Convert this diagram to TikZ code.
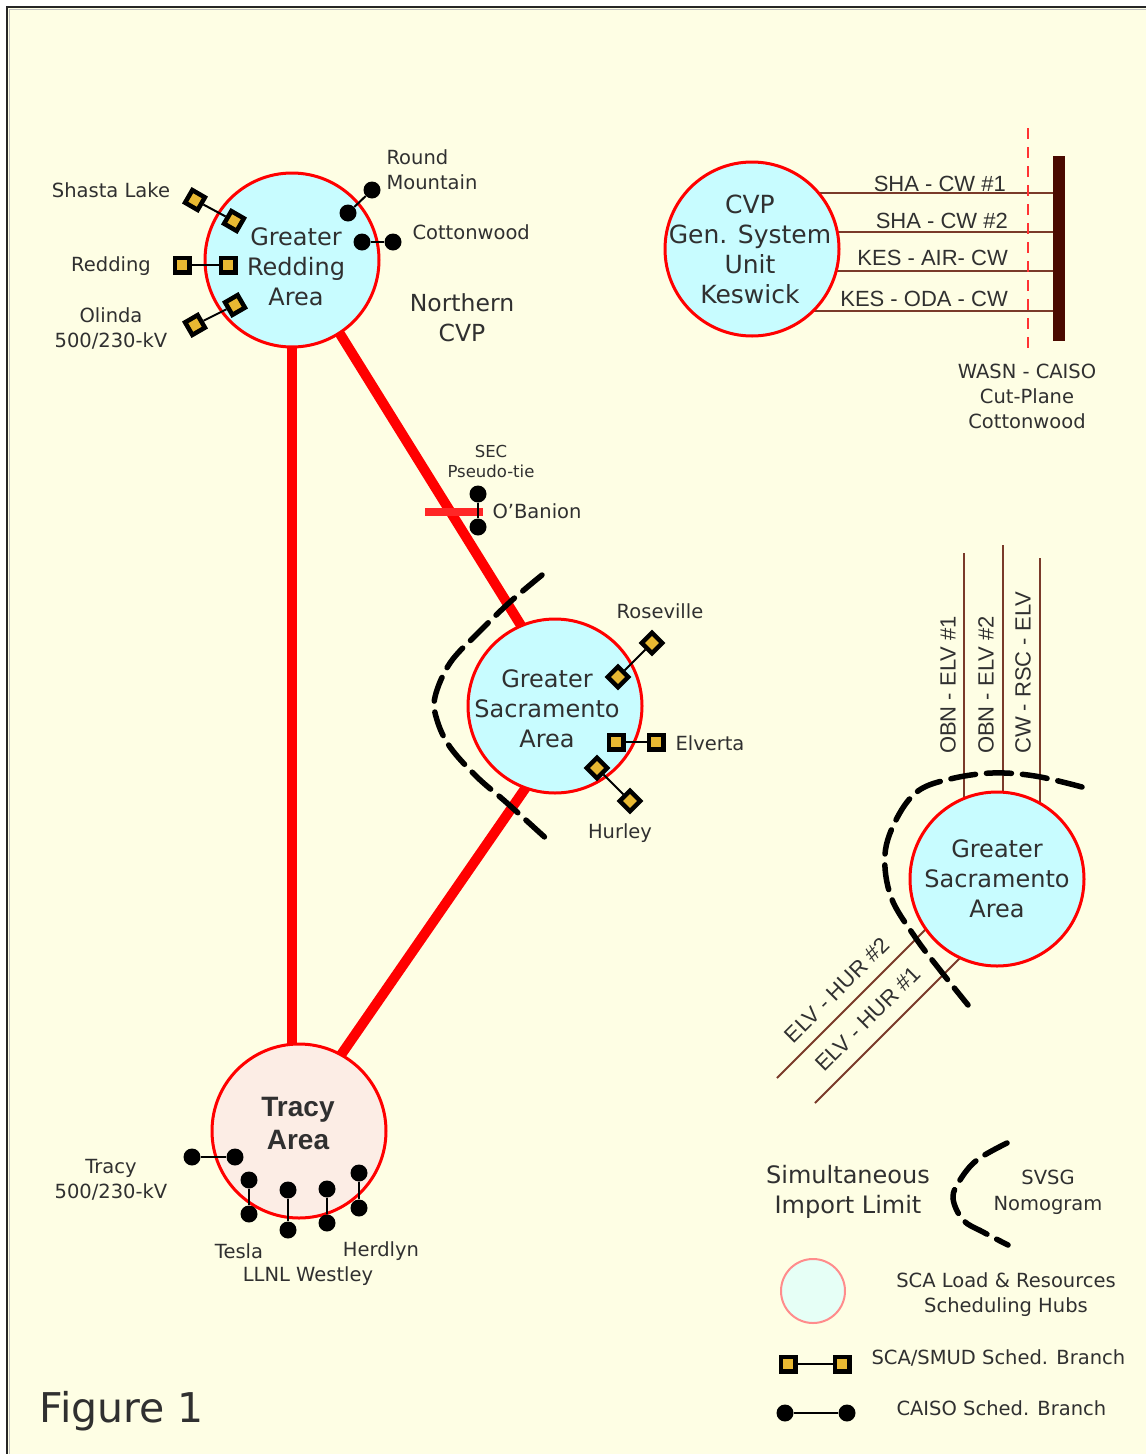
\documentclass[tikz,border=0pt]{standalone}
\usepackage{fontspec}
\setmainfont{DejaVu Sans}
\newfontfamily\arialf{Liberation Sans}
\usetikzlibrary{calc}
\pgfdeclarelayer{back}
\pgfdeclarelayer{wires}
\pgfsetlayers{back,wires,main}
\definecolor{paper}{HTML}{FEFEE4}
\definecolor{hubc}{HTML}{C8FCFF}
\definecolor{hubtr}{HTML}{FCEDE5}
\definecolor{mint}{HTML}{E6FFF6}
\definecolor{gold}{HTML}{E8B832}
\definecolor{brownl}{HTML}{7A3A2A}
\definecolor{barc}{HTML}{4A0A00}
\definecolor{ink}{HTML}{303030}
\tikzset{
  hub/.style={circle, draw=red, line width=3pt, fill=hubc, minimum size=174pt, inner sep=0pt},
  hubtxt/.style={text=ink, align=center, font=\fontsize{24}{30}\selectfont},
  sqm/.style={rectangle, draw=black, line width=4.5pt, fill=gold, minimum size=14.5pt, inner sep=0pt},
  dotm/.style={circle, fill=black, minimum size=17pt, inner sep=0pt},
  lbl/.style={text=ink, align=center, font=\fontsize{19.5}{25}\selectfont},
  alb/.style={text=ink, font=\arialf\fontsize{22}{25}\selectfont, inner sep=0pt},
  wire/.style={black, line width=2pt},
  feeder/.style={brownl, line width=2pt},
  redline/.style={red, line width=10pt, shorten <=-6pt, shorten >=-6pt},
  nomo/.style={black, line width=5.5pt, line cap=round, dash pattern=on 25pt off 11pt}
}
\begin{document}
\begin{tikzpicture}[x=1pt,y=-1pt]
\useasboundingbox (0,0) rectangle (1146,1454);
\begin{pgfonlayer}{back}
\fill[white] (0,0) rectangle (1146,1454);
\fill[paper] (7,7) rectangle (1146,1454);
\draw[black!85, line width=2pt] (7,1454) -- (7,7) -- (1146,7);
\draw[black!25, line width=1.5pt] (9.5,1454) -- (9.5,9.5) -- (1146,9.5);
\end{pgfonlayer}

% hubs
\node[hub] (red) at (292,260) {};
\node[hubtxt] (redt) at (296,267) {Greater\\Redding\\Area};
\node[hub] (cvp) at (752,249) {};
\node[hubtxt, font=\fontsize{25}{30}\selectfont] (cvpt) at (750,249) {CVP\\Gen. System\\Unit\\Keswick};
\node[hub] (sacm) at (555,706) {};
\node[hubtxt] (sacmt) at (547,709) {Greater\\Sacramento\\Area};
\node[hub] (sacr) at (997,879) {};
\node[hubtxt] (sacrt) at (997,879) {Greater\\Sacramento\\Area};
\node[hub, fill=hubtr] (tracy) at (299,1131) {};
\node[text=ink, align=center, font=\arialf\bfseries\fontsize{28}{33}\selectfont] (tracyt) at (298,1123) {Tracy\\Area};

% red transmission paths
\begin{pgfonlayer}{wires}
\draw[redline] (red.south) -- (red.south |- tracy.north);
\draw[redline] (red.-57) -- (sacm.113);
\draw[redline] (sacm.-110) -- (tracy.61);
\end{pgfonlayer}

% Northern CVP
\node[hubtxt, font=\fontsize{23.5}{30}\selectfont] (ncvp) at (462,318) {Northern\\CVP};

% Redding markers
\node[sqm, rotate=-30] (sh1) at (195,200) {};
\node[sqm, rotate=-30] (sh2) at (234,221) {};
\draw[wire] (sh1) -- (sh2);
\node[sqm] (rd1) at (182,265) {};
\node[sqm] (rd2) at (228,265) {};
\draw[wire] (rd1) -- (rd2);
\node[sqm, rotate=30] (ol1) at (195,325) {};
\node[sqm, rotate=30] (ol2) at (235,305) {};
\draw[wire] (ol1) -- (ol2);
\node[dotm] (rm1) at (372,190) {};
\node[dotm] (rm2) at (348,213) {};
\draw[wire] (rm1) -- (rm2);
\node[dotm] (cw1) at (362,242) {};
\node[dotm] (cw2) at (393,242) {};
\draw[wire] (cw1) -- (cw2);
\node[lbl] (lsh) at (111,190) {Shasta Lake};
\node[lbl] (lrd) at (111,266) {Redding};
\node[lbl] (lol) at (111,328) {Olinda\\500/230-kV};
\node[lbl, anchor=west, align=left] (lrm) at (383,170) {Round\\Mountain};
\node[lbl, anchor=west] (lcw) at (409,232) {Cottonwood};

% O'Banion pseudo-tie
\draw[red!85, line width=8pt] (425,512) -- (483,512);
\node[dotm] (ob1) at (478,494) {};
\node[dotm] (ob2) at (478,527) {};
\draw[wire] (ob1) -- (ob2);
\node[lbl, anchor=west] (lob) at (489,511) {O'Banion};
\node[text=ink, align=center, font=\fontsize{16.5}{20}\selectfont] (lsec) at (491,461) {SEC\\Pseudo-tie};

% Sacramento markers
\node[sqm, rotate=45] (rs1) at (618,677) {};
\node[sqm, rotate=45] (rs2) at (652,643) {};
\draw[wire] (rs1) -- (rs2);
\node[sqm] (el1) at (616,742) {};
\node[sqm] (el2) at (656,742) {};
\draw[wire] (el1) -- (el2);
\node[sqm, rotate=45] (hu1) at (597,768) {};
\node[sqm, rotate=45] (hu2) at (630,801) {};
\draw[wire] (hu1) -- (hu2);
\node[lbl] (lrs) at (660,611) {Roseville};
\node[lbl, anchor=west] (lel) at (672,743) {Elverta};
\node[lbl] (lhu) at (620,833) {Hurley};

% SVSG nomogram (middle)
\draw[nomo] plot[smooth, tension=0.6] coordinates {(542,575) (510,602) (478,633) (450,663) (435,697) (437,720) (450,747) (477,777) (507,803) (550,842)};

% Tracy markers
\node[dotm] (tr1) at (192,1157) {};
\node[dotm] (tr2) at (235,1157) {};
\draw[wire] (tr1) -- (tr2);
\node[dotm] (te1) at (249,1180) {};
\node[dotm] (te2) at (249,1214) {};
\draw[wire] (te1) -- (te2);
\node[dotm] (ll1) at (288,1190) {};
\node[dotm] (ll2) at (288,1230) {};
\draw[wire] (ll1) -- (ll2);
\node[dotm] (we1) at (327,1189) {};
\node[dotm] (we2) at (327,1223) {};
\draw[wire] (we1) -- (we2);
\node[dotm] (he1) at (359,1173) {};
\node[dotm] (he2) at (359,1208) {};
\draw[wire] (he1) -- (he2);
\node[lbl] (ltr) at (111,1180) {Tracy\\500/230-kV};
\node[lbl] (lte) at (239,1251) {Tesla};
\node[lbl] (lhe) at (381,1251) {Herdlyn};
\node[lbl] (llw) at (308,1276) {LLNL Westley};

% CVP cut-plane
\node[fill=barc, minimum width=12pt, minimum height=185pt, inner sep=0pt] (bar) at (1059,248) {};
\begin{pgfonlayer}{wires}
\foreach \yy in {193,232,271,311} {
  \draw[feeder] (cvp.center |- 0,\yy) -- (bar.center |- 0,\yy);
}
\end{pgfonlayer}
\draw[red!80, line width=2pt, dash pattern=on 11pt off 8pt] (1028,128) -- (1028,353);
\node[alb, anchor=base east] (f1) at (1006,191) {SHA - CW \#1};
\node[alb, anchor=base east] (f2) at (1008,228) {SHA - CW \#2};
\node[alb, anchor=base east] (f3) at (1008,265) {KES - AIR- CW};
\node[alb, anchor=base east] (f4) at (1008,306) {KES - ODA - CW};
\node[lbl] (lwasn) at (1027,396) {WASN - CAISO\\Cut-Plane\\Cottonwood};

% right Sacramento feeders
\begin{pgfonlayer}{wires}
\coordinate (v1) at (964,553);
\coordinate (v2) at (1003,545);
\coordinate (v3) at (1040,558);
\draw[feeder] (v1) -- (v1 |- sacr.center);
\draw[feeder] (v2) -- (v2 |- sacr.center);
\draw[feeder] (v3) -- (v3 |- sacr.center);
\coordinate (d1) at (777,1078);
\coordinate (d2) at (815,1103);
\draw[feeder] (d1) -- (945,910);
\draw[feeder] (d2) -- (978,940);
\end{pgfonlayer}
\node[alb, rotate=90, anchor=west] (lv1) at (948,754) {OBN - ELV \#1};
\node[alb, rotate=90, anchor=west] (lv2) at (986,754) {OBN - ELV \#2};
\node[alb, rotate=90, anchor=west] (lv3) at (1023,754) {CW - RSC - ELV};
\node[alb, rotate=45] (ld1) at (837,990) {ELV - HUR \#2};
\node[alb, rotate=45] (ld2) at (868,1019) {ELV - HUR \#1};
\draw[nomo] plot[smooth, tension=0.6] coordinates {(1082,787) (1035,776) (992,773) (950,779) (918,791) (897,818) (885,854) (891,897) (915,937) (940,970) (968,1005)};

% legend
\node[hubtxt, font=\fontsize{24}{30}\selectfont] (lsim) at (848,1192) {Simultaneous\\Import Limit};
\draw[nomo] plot[smooth, tension=0.6] coordinates {(1007,1143) (977,1160) (960,1180) (953,1198) (963,1220) (983,1232) (1008,1245)};
\node[lbl, font=\fontsize{19.5}{26}\selectfont] (lsvsg) at (1048,1192) {SVSG\\Nomogram};
\node[circle, draw=red!45, line width=2pt, fill=mint, minimum size=64pt, inner sep=0pt] (lghub) at (813,1291) {};
\node[lbl] (lhubs) at (1006,1295) {SCA Load \& Resources\\Scheduling Hubs};
\node[sqm] (lq1) at (788,1364) {};
\node[sqm] (lq2) at (842,1364) {};
\draw[wire] (lq1) -- (lq2);
\node[lbl, anchor=west] (lsca) at (868,1358) {SCA/SMUD Sched. Branch};
\node[dotm] (ld1a) at (785,1413) {};
\node[dotm] (ld2a) at (847,1413) {};
\draw[wire] (ld1a) -- (ld2a);
\node[lbl, anchor=west] (lcaiso) at (893,1408) {CAISO Sched. Branch};
\node[text=ink, anchor=west, font=\fontsize{41}{46}\selectfont] (fig) at (36,1411) {Figure 1};
\end{tikzpicture}
\end{document}
